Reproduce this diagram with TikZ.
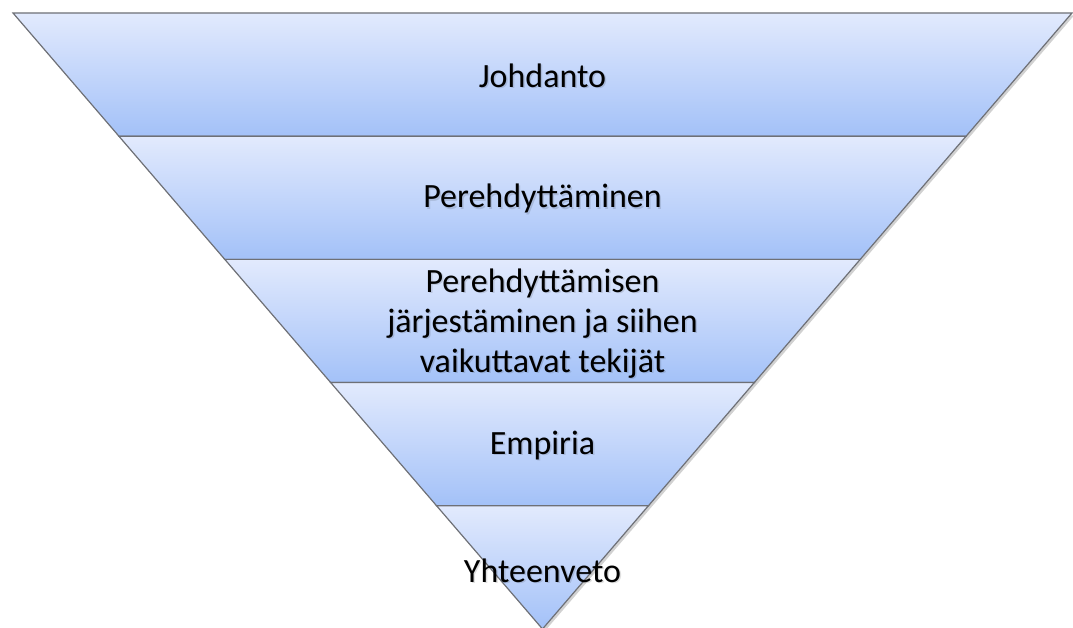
\documentclass[tikz,border=0pt]{standalone}
\usepackage{fontspec}
\setmainfont{Carlito}
\definecolor{bandtop}{RGB}{226,234,253}
\definecolor{bandbot}{RGB}{163,193,248}
\definecolor{edgegray}{RGB}{110,112,118}
\tikzset{
  band/.style={top color=bandtop, bottom color=bandbot, draw=edgegray, line width=1.2pt, line join=miter},
  bandshadow/.style={fill=black, opacity=0.18},
  label/.style={font=\fontsize{34}{40}\selectfont, text=black, align=center, inner sep=0pt},
  labelshadow/.style={font=\fontsize{34}{40}\selectfont, text=black, opacity=0.12, align=center, inner sep=0pt}
}
\begin{document}
\begin{tikzpicture}[x=1pt,y=1pt]
\useasboundingbox (0,0) rectangle (1073,628);
\begin{scope}
\clip (0,0) rectangle (1073,628);
% shadow of the whole triangle
\fill[bandshadow] (15,612.5) -- (1074,612.5) -- (544.5,-3.5) -- cycle;
% bands (y = 628 - image y)
\path[band] (13,615) -- (1072,615) -- (966.1,491.8) -- (118.9,491.8) -- cycle;
\path[band] (118.9,491.8) -- (966.1,491.8) -- (860.2,368.6) -- (224.8,368.6) -- cycle;
\path[band] (224.8,368.6) -- (860.2,368.6) -- (754.3,245.4) -- (330.7,245.4) -- cycle;
\path[band] (330.7,245.4) -- (754.3,245.4) -- (648.4,122.2) -- (436.6,122.2) -- cycle;
\path[band] (436.6,122.2) -- (648.4,122.2) -- (542.5,-1) -- cycle;
% labels
\node[labelshadow] at (544,551) {Johdanto};
\node[label] (l1) at (542.5,552.5) {Johdanto};
\node[labelshadow] at (544,428) {Perehdyttäminen};
\node[label] (l2) at (542.5,429.5) {Perehdyttäminen};
\node[labelshadow] at (544,303) {Perehdyttämisen\\järjestäminen ja siihen\\vaikuttavat tekijät};
\node[label] (l3) at (542.5,304.5) {Perehdyttämisen\\järjestäminen ja siihen\\vaikuttavat tekijät};
\node[labelshadow] at (544,181) {Empiria};
\node[label] (l4) at (542.5,182.5) {Empiria};
\node[labelshadow] at (544,56) {Yhteenveto};
\node[label] (l5) at (542.5,57.5) {Yhteenveto};
\end{scope}
\end{tikzpicture}
\end{document}
